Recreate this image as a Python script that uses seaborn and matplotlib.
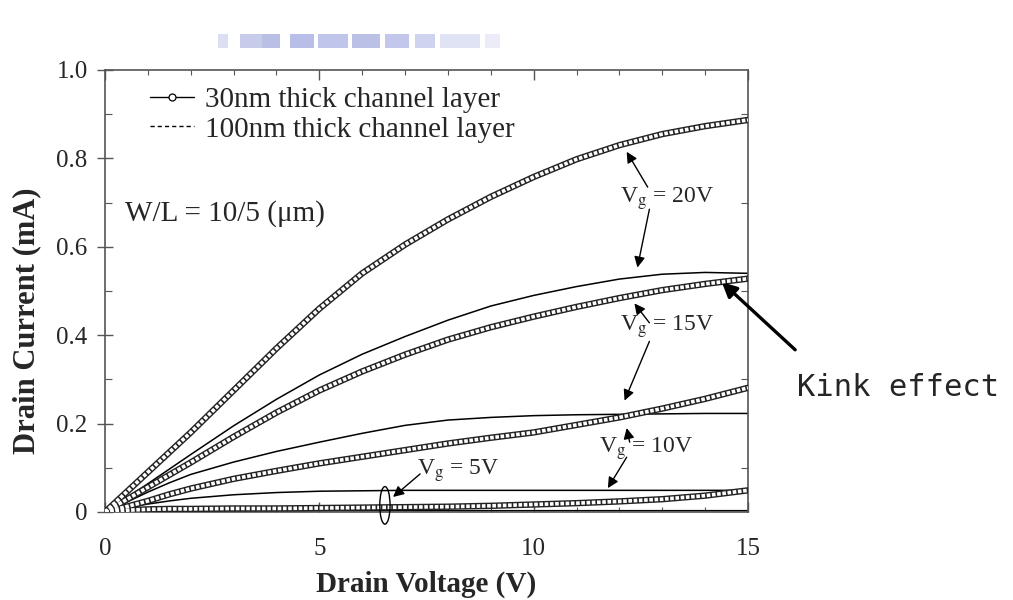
import numpy as np
import pandas as pd
import matplotlib
matplotlib.use("Agg")
import matplotlib.pyplot as plt
from matplotlib.lines import Line2D
from matplotlib.patches import Ellipse, Rectangle
import seaborn as sns

# ---------------- data ----------------
drain_voltage = [0, 0.5, 1, 1.5, 2, 3, 4, 5, 6, 7, 8, 9, 10, 11, 12, 13, 14, 15]

# 30 nm thick channel layer (open circles)
i30_vg20 = [0, 0.045, 0.09, 0.135, 0.18, 0.275, 0.37, 0.46, 0.54, 0.605, 0.662, 0.713, 0.758, 0.798, 0.83, 0.855, 0.873, 0.887]
i30_vg15 = [0, 0.028, 0.056, 0.084, 0.112, 0.17, 0.225, 0.275, 0.318, 0.356, 0.39, 0.418, 0.442, 0.464, 0.484, 0.502, 0.516, 0.528]
i30_vg10 = [0, 0.012, 0.025, 0.04, 0.053, 0.075, 0.093, 0.11, 0.125, 0.14, 0.155, 0.168, 0.18, 0.197, 0.214, 0.234, 0.256, 0.281]
i30_vg5 = [0, 0.004, 0.006, 0.007, 0.007, 0.008, 0.008, 0.009, 0.010, 0.011, 0.012, 0.014, 0.017, 0.020, 0.024, 0.029, 0.037, 0.049]

# 100 nm thick channel layer (thin lines)
i100_vg20 = [0, 0.032, 0.064, 0.097, 0.13, 0.195, 0.255, 0.31, 0.357, 0.397, 0.434, 0.466, 0.49, 0.51, 0.527, 0.538, 0.542, 0.54]
i100_vg15 = [0, 0.022, 0.045, 0.066, 0.085, 0.113, 0.137, 0.158, 0.178, 0.196, 0.208, 0.214, 0.218, 0.22, 0.221, 0.222, 0.223, 0.223]
i100_vg10 = [0, 0.01, 0.018, 0.025, 0.031, 0.039, 0.044, 0.047, 0.048, 0.049, 0.049, 0.049, 0.049, 0.049, 0.049, 0.049, 0.049, 0.049]
i100_vg5 = [0, 0.002, 0.003, 0.003, 0.003, 0.003, 0.003, 0.003, 0.003, 0.003, 0.003, 0.003, 0.003, 0.003, 0.003, 0.003, 0.003, 0.003]

gate_voltages = ["20V", "15V", "10V", "5V"]
x_ticks = [0, 5, 10, 15]
y_ticks = [0, 0.2, 0.4, 0.6, 0.8, 1.0]
y_tick_labels = ["0", "0.2", "0.4", "0.6", "0.8", "1.0"]

legend_labels = ["30nm thick channel layer", "100nm thick channel layer"]

# ---------------- tables ----------------
def long_table(series_list):
    frames = []
    for vg, vals in zip(gate_voltages, series_list):
        frames.append(pd.DataFrame({"V": drain_voltage, "I": vals, "Vg": vg}))
    return pd.concat(frames, ignore_index=True)

df30 = long_table([i30_vg20, i30_vg15, i30_vg10, i30_vg5])
df100 = long_table([i100_vg20, i100_vg15, i100_vg10, i100_vg5])

# ---------------- style ----------------
sns.set_theme(style="ticks")
plt.rcParams["font.family"] = ["Liberation Serif", "DejaVu Serif"]
plt.rcParams["mathtext.fontset"] = "stix"

fig = plt.figure(figsize=(10.13, 6.0), dpi=100)
ax = fig.add_axes([105 / 1013, 88 / 600, 643 / 1013, 442 / 600])

edge = "#555555"
ink = "#222222"

# 100 nm curves: thin lines
sns.lineplot(data=df100, x="V", y="I", units="Vg", estimator=None, sort=False,
             color="black", lw=1.1, ax=ax, legend=False)

# 30 nm curves: chain of small open circles (outer ring + segmented light core)
sns.lineplot(data=df30, x="V", y="I", units="Vg", estimator=None, sort=False,
             color=ink, lw=4.6, ax=ax, legend=False, zorder=3)
sns.lineplot(data=df30, x="V", y="I", units="Vg", estimator=None, sort=False,
             color="white", lw=2.6, ls=(0, (1.0, 0.45)), ax=ax, legend=False, zorder=3.1)

ax.set_xlim(0, 15)
ax.set_ylim(0, 1.0)
ax.set_xticks(x_ticks)
ax.set_xticklabels([str(t) for t in x_ticks])
ax.set_xticks(np.arange(0, 16, 1), minor=True)
ax.set_yticks(y_ticks)
ax.set_yticklabels(y_tick_labels)
ax.set_yticks(np.arange(0, 1.01, 0.1), minor=True)

ax.tick_params(axis="x", which="both", direction="in", top=True, bottom=True,
               color=edge, labelsize=18, pad=19)
ax.tick_params(axis="x", which="major", length=7, width=1)
ax.tick_params(axis="x", which="minor", length=3.5, width=0.8)
ax.tick_params(axis="y", which="major", direction="inout", length=11, width=1,
               left=True, right=False, color=edge, labelsize=18, pad=7)
ax.tick_params(axis="y", which="minor", direction="in", length=5, width=0.8,
               left=True, right=True, color=edge)

for s in ax.spines.values():
    s.set_color(edge)
    s.set_linewidth(1.2)
    s.set_visible(True)

ax.set_xlabel("Drain Voltage (V)", fontsize=21, fontweight="bold", va="top")
ax.set_ylabel("Drain Current (mA)", fontsize=22, fontweight="bold", va="center")
ax.xaxis.set_label_coords(0.5, -0.132)
ax.yaxis.set_label_coords(-0.122, 0.432)

# legend
handles = [
    Line2D([], [], color="black", lw=1.0, marker="o", ms=5, mfc="white", mec="black", mew=0.9),
    Line2D([], [], color="black", lw=1.0, ls=(0, (3, 2.2))),
]
ax.legend(handles, legend_labels, loc="upper left", bbox_to_anchor=(0.07, 0.962),
          frameon=False, fontsize=21, handlelength=1.5, handletextpad=0.4,
          labelspacing=0.1, borderaxespad=0.0, borderpad=0.0)

ax.text(0.47, 0.676, "W/L = 10/5 (μm)", fontsize=21, ha="left", va="center")

# gate voltage annotations
arrow_kw = dict(arrowstyle="-|>", color="black", lw=1.0, mutation_scale=16,
                shrinkA=0, shrinkB=0)

def arrow(head, tail):
    ax.annotate("", xy=head, xytext=tail, arrowprops=arrow_kw, annotation_clip=False)

vg_size = 17
ax.text(13.12, 0.71, r"V$_\mathrm{g}$ = 20V", fontsize=vg_size, ha="center", va="center")
arrow((12.17, 0.815), (12.66, 0.735))
arrow((12.42, 0.553), (12.70, 0.685))

ax.text(13.12, 0.42, r"V$_\mathrm{g}$ = 15V", fontsize=vg_size, ha="center", va="center")
arrow((12.35, 0.472), (12.70, 0.428))
arrow((12.12, 0.252), (12.70, 0.386))

ax.text(12.63, 0.144, r"V$_\mathrm{g}$ = 10V", fontsize=vg_size, ha="center", va="center")
arrow((12.17, 0.19), (12.24, 0.158))
arrow((11.73, 0.054), (12.17, 0.124))

ax.text(8.23, 0.094, r"V$_\mathrm{g}$ = 5V", fontsize=vg_size, ha="center", va="center")
arrow((6.72, 0.034), (7.35, 0.086))

ax.add_patch(Ellipse((6.53, 0.015), width=0.24, height=0.085, fill=False,
                     edgecolor="black", lw=1.0, clip_on=False, zorder=5))

# kink effect arrow and text
ax.annotate("", xy=(14.39, 0.52), xytext=(16.1, 0.367),
            arrowprops=dict(arrowstyle="-|>", color="black", lw=2.4,
                            mutation_scale=22, shrinkA=0, shrinkB=0),
            annotation_clip=False)
fig.text(797 / 1013, (600 - 387) / 600, "Kink effect", family="DejaVu Sans Mono",
         fontsize=22, ha="left", va="center")

# faint blurred watermark strip at the top
for x0, w, c in [(218, 10, "#d4d8ef"), (240, 22, "#b9c0e6"), (262, 18, "#a9b0df"),
                 (290, 24, "#a7aee1"), (318, 30, "#b1b8e6"), (352, 28, "#aab2e0"),
                 (385, 24, "#b3bae6"), (415, 20, "#c2c8ec"), (440, 40, "#d9dcf1"),
                 (485, 15, "#e6e8f6")]:
    fig.add_artist(Rectangle((x0 / 1013, (600 - 48) / 600), w / 1013, 14 / 600,
                             transform=fig.transFigure, color=c, lw=0, alpha=0.8))

fig.savefig("out.png", dpi=100)
